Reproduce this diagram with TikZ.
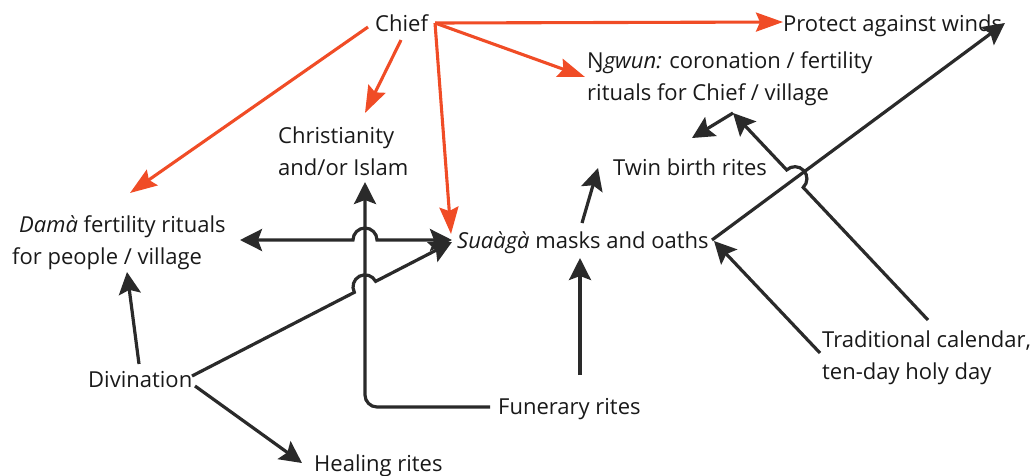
\documentclass[tikz,border=0pt]{standalone}
\usepackage{fontspec}
\setmainfont{Open Sans}
\usetikzlibrary{arrows.meta,calc}
\definecolor{ink}{RGB}{42,42,42}
\definecolor{chiefred}{RGB}{240,76,38}
\newcommand{\twoline}[2]{\begin{tabular}[t]{@{}l@{}}#1\\#2\end{tabular}}
\begin{document}
\begin{tikzpicture}[x=1pt,y=1pt,
  txt/.style={inner sep=0pt, anchor=base west, text=black!90,
              font=\fontsize{22}{32.5}\selectfont},
  link/.style={draw=ink, line width=3.2pt,
               >={Stealth[length=22pt,width=22pt,inset=4pt]}, ->},
  redlink/.style={draw=chiefred, line width=3.1pt,
               >={Stealth[length=27pt,width=19pt,inset=4pt]}, ->},
]
\useasboundingbox (0,0) rectangle (1035,-475);

% ---- labels ----
\node[txt] (chief)   at (375,-31)  {Chief};
\node[txt] (protect) at (783,-31)  {Protect against winds};
\node[txt] (ngwun)   at (587,-68)  {\twoline{Ŋ\textit{gwun:} coronation / fertility}{rituals for Chief / village}};
\node[txt] (chr)     at (278,-143) {\twoline{Christianity}{and/or Islam}};
\node[txt] (twin)    at (613,-175) {Twin birth rites};
\node[txt] (dama)    at (12,-232)  {\twoline{\hspace{7pt}\textit{Damà} fertility rituals}{for people / village}};
\node[txt] (sua)     at (457,-248) {\textit{Suaàgà} masks and oaths};
\node[txt] (div)     at (88,-387)  {Divination};
\node[txt] (fun)     at (498,-414) {Funerary rites};
\node[txt] (heal)    at (314,-471) {Healing rites};
\node[txt] (trad)    at (822,-347) {\twoline{Traditional calendar,}{ten-day holy day}};

% ---- attachment points around the labels ----
\path ([shift={(60,8)}]chief.base west)    coordinate (chiefR)
      ([shift={(26,-9)}]chief.base west)   coordinate (chiefS)
      ([shift={(-7,4)}]chief.base west)    coordinate (chiefW)
      ([shift={(0,9)}]protect.base west)   coordinate (protectIn)
      ([shift={(222,8)}]protect.base west) coordinate (protectIn2)
      ([shift={(-2,-9)}]ngwun.base west)   coordinate (ngwunIn)
      ([shift={(146,-45)}]ngwun.base west) coordinate (ngwunLow)
      ([shift={(-5,8)}]sua.base west)      coordinate (suaIn1)
      ([shift={(-5,6)}]sua.base west)      coordinate (suaIn2)
      ([shift={(-6,14)}]sua.base west)     coordinate (suaIn3)
      ([shift={(123,-10)}]sua.base west)   coordinate (suaBottom)
      ([shift={(125,25)}]sua.base west)    coordinate (suaTop)
      ([shift={(255,8)}]sua.base west)     coordinate (suaEast)
      ([shift={(257,7)}]sua.base west)     coordinate (suaEastIn)
      ([shift={(87,30)}]chr.base west)     coordinate (chrTop)
      ([shift={(87,-39)}]chr.base west)    coordinate (chrIn)
      ([shift={(118,39)}]dama.base west)   coordinate (damaTop)
      ([shift={(228,-8)}]dama.base west)   coordinate (damaEast)
      ([shift={(115,-40)}]dama.base west)  coordinate (damaBottom)
      ([shift={(104,11)}]div.base west)    coordinate (divNE)
      ([shift={(51,23)}]div.base west)     coordinate (divN)
      ([shift={(107,1)}]div.base west)     coordinate (divE)
      ([shift={(-12,8)}]heal.base west)    coordinate (healIn)
      ([shift={(-8,7)}]fun.base west)      coordinate (funW)
      ([shift={(82,39)}]fun.base west)     coordinate (funN)
      ([shift={(-15,7)}]twin.base west)    coordinate (twinIn)
      ([shift={(79,37)}]twin.base west)    coordinate (twinTop)
      ([shift={(106,27)}]trad.base west)   coordinate (tradN)
      ([shift={(-2,-6)}]trad.base west)    coordinate (tradW);
\coordinate (funCorner) at (funW -| chrIn);

% crossings where a line hops over another
\coordinate (h1) at (chrIn |- damaEast);
\coordinate (h2) at (intersection of divNE--suaIn2 and chrIn--funCorner);
\coordinate (h3) at (intersection of tradN--ngwunLow and suaEast--protectIn2);

% ---- black connectors ----
\draw[link, rounded corners=12pt] (funW) -- (funCorner) -- (chrIn);
\draw[link, <->] (damaEast) -- ($(h1)!12pt!(damaEast)$)
      arc[start angle=180, end angle=0, radius=12pt] -- (suaIn1);
\draw[link] (divNE) -- ($(h2)!12pt!(divNE)$)
      arc[start angle=207.27, end angle=27.27, radius=12pt] -- (suaIn2);
\draw[link] (divN) -- (damaBottom);
\draw[link] (divE) -- (healIn);
\draw[link] (funN) -- (suaBottom);
\draw[link] (suaTop) -- (twinIn);
\draw[link] (suaEast) -- (protectIn2);
\draw[link] (tradN) -- ($(h3)!12pt!(tradN)$)
      arc[start angle=-46.71, end angle=133.29, radius=12pt] -- (ngwunLow);
\draw[link] (ngwunLow) -- (twinTop);
\draw[link] (tradW) -- (suaEastIn);

% ---- connectors from the Chief ----
\draw[redlink] (chiefR) -- (protectIn);
\draw[redlink] (chiefR) -- (ngwunIn);
\draw[redlink] (chiefR) -- (suaIn3);
\draw[redlink] (chiefS) -- (chrTop);
\draw[redlink] (chiefW) -- (damaTop);
\end{tikzpicture}
\end{document}
